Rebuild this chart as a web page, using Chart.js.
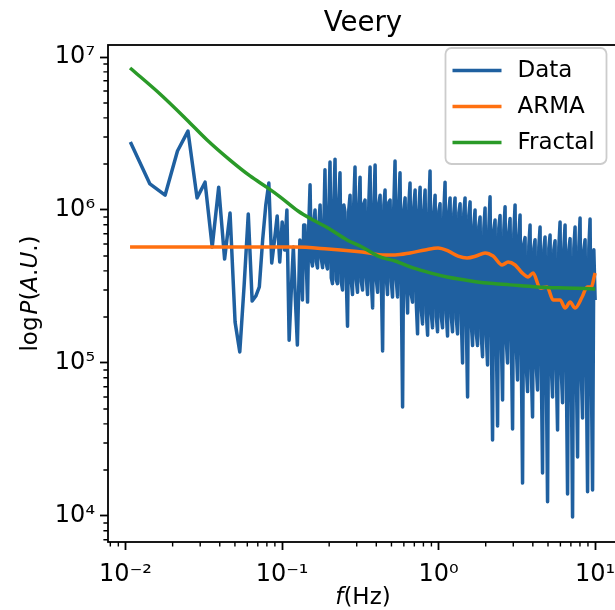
<!DOCTYPE html>
<html>
<head>
<meta charset="utf-8">
<script src="https://cdn.jsdelivr.net/npm/chart.js@4.4.1/dist/chart.umd.min.js"></script>
<style>
  html, body { margin: 0; padding: 0; background: #fff; overflow: hidden; }
  #wrap { width: 630px; height: 610px; }
</style>
</head>
<body>
<div id="wrap"><canvas id="psd" width="630" height="610"></canvas></div>
<script>
// Frequencies (Hz) and power of the measured spectrum
const dataFreq = [
  0.01074, 0.01432, 0.0179, 0.02148, 0.02506, 0.02864, 0.03222, 0.0358, 0.03938, 0.04296,
  0.04654, 0.05012, 0.0537, 0.05728, 0.06086, 0.06444, 0.06802, 0.0716, 0.07518, 0.07876,
  0.08234, 0.08592, 0.0895, 0.09308, 0.09666, 0.1002, 0.1038, 0.1074, 0.111, 0.1146,
  0.1181, 0.1217, 0.1253,
  0.130, 0.1324, 0.135, 0.1375, 0.140, 0.1426, 0.1455, 0.1482, 0.151, 0.1538,
  0.1565, 0.1594, 0.1625, 0.1655, 0.1685, 0.1716, 0.175, 0.1783, 0.1815, 0.1849,
  0.188, 0.1915, 0.195, 0.1986, 0.2025, 0.2063, 0.210, 0.2139, 0.218, 0.2221,
  0.226, 0.2302, 0.2345, 0.2389, 0.2435, 0.2480, 0.2525, 0.2572, 0.262, 0.2669,
  0.272, 0.2771, 0.282, 0.2872, 0.2925, 0.2979, 0.3035, 0.3091, 0.315, 0.3209,
  0.327, 0.3331, 0.339, 0.3453, 0.352, 0.3585, 0.365, 0.3718, 0.379, 0.3860,
  0.393, 0.4003, 0.408, 0.4156, 0.423, 0.4309, 0.439, 0.4472, 0.455, 0.4635,
  0.472, 0.4808, 0.490, 0.4991, 0.508, 0.5174, 0.527, 0.5368, 0.547, 0.5572,
  0.567, 0.5775, 0.589, 0.6000, 0.611, 0.6224, 0.634, 0.6458, 0.657, 0.6692,
  0.682, 0.6947, 0.708, 0.7212, 0.734, 0.7477, 0.762, 0.7762, 0.790, 0.8047,
  0.820, 0.8353, 0.851, 0.8668, 0.882, 0.8984, 0.915, 0.9320, 0.950, 0.9677,
  0.985, 1.0033, 1.022, 1.041, 1.060, 1.080, 1.100, 1.120, 1.141, 1.162,
  1.184, 1.206, 1.228, 1.251, 1.274, 1.298, 1.322, 1.347, 1.372, 1.398,
  1.423, 1.449, 1.476, 1.503, 1.532, 1.560, 1.589, 1.619, 1.649, 1.680,
  1.710, 1.742, 1.774, 1.807, 1.841, 1.875, 1.910, 1.946, 1.981, 2.018,
  2.055, 2.093, 2.132, 2.172, 2.212, 2.253, 2.295, 2.338, 2.381, 2.425,
  2.470, 2.516, 2.563, 2.611, 2.659, 2.708, 2.758, 2.809, 2.862, 2.915,
  2.969, 3.024, 3.080, 3.137, 3.195, 3.254, 3.315, 3.377, 3.439, 3.503,
  3.568, 3.634, 3.702, 3.771, 3.840, 3.911, 3.984, 4.058, 4.133, 4.210,
  4.288, 4.368, 4.449, 4.532, 4.615, 4.701, 4.788, 4.877, 4.968, 5.060,
  5.154, 5.250, 5.347, 5.446, 5.547, 5.650, 5.755, 5.862, 5.971, 6.082,
  6.194, 6.309, 6.426, 6.545, 6.667, 6.791, 6.917, 7.046, 7.176, 7.309,
  7.445, 7.583, 7.724, 7.868, 8.013, 8.162, 8.313, 8.468, 8.625, 8.785,
  8.948, 9.114, 9.283, 9.456, 9.631, 9.810, 10.0
];
const dataPower = [
  2.78e6, 1.48e6, 1.25e6, 2.43e6, 3.28e6, 1.2e6, 1.52e6, 5.73e5, 1.41e6, 4.78e5,
  9.56e5, 1.85e5, 1.18e5, 3.24e5, 9.42e5, 2.54e5, 2.74e5, 3.14e5, 6.37e5, 1.08e6,
  1.5e6, 4.5e5, 6.37e5, 9.14e5, 4.57e5, 8.35e5, 5.48e5, 1.0e6, 1.41e5, 3.0e5,
  5.73e5, 2.58e5, 1.31e5,
  6.37e5, 4.71e5, 2.58e5, 7.98e5, 7.98e5, 4.71e5, 2.5e5, 7.98e5, 1.46e6, 4.71e5,
  4.3e5, 8.2e5, 1.0e6, 4.6e5, 4.18e5, 7.8e5, 1.08e6, 4.8e5, 4.2e5, 8.0e5,
  1.83e6, 4.5e5, 4.12e5, 9.0e5, 2.06e6, 3.6e5, 3.3e5, 1.05e6, 2.15e6, 3.5e5,
  3.3e5, 1.1e6, 1.75e6, 3.4e5, 3.0e5, 1.08e6, 9.7e5, 3.6e5, 1.74e5, 1.0e6,
  1.25e6, 3.4e5, 2.8e5, 1.1e6, 1.91e6, 3.5e5, 2.9e5, 1.05e6, 1.64e6, 3.4e5,
  3.0e5, 1.1e6, 1.16e6, 3.6e5, 2.8e5, 1.12e6, 1.91e6, 3.4e5, 2.29e5, 1.05e6,
  1.97e6, 3.5e5, 2.9e5, 1.1e6, 1.25e6, 3.4e5, 1.2e5, 1.08e6, 1.35e6, 3.6e5,
  2.8e5, 1.12e6, 1.16e6, 3.4e5, 2.7e5, 1.05e6, 2.09e6, 3.5e5, 2.7e5, 1.1e6,
  1.75e6, 3.3e5, 5.16e4, 1.0e6, 1.2e6, 3.4e5, 2.12e5, 1.08e6, 1.5e6, 2.8e5,
  2.5e5, 1.05e6, 1.35e6, 2.4e5, 1.55e5, 1.0e6, 1.41e6, 2.2e5, 1.8e5, 1.0e6,
  1.35e6, 2.1e5, 1.52e5, 1.0e6, 1.8e6, 2.1e5, 1.7e5, 9.5e5, 1.25e6, 2.0e5,
  1.6e5, 9.8e5, 1.1e6, 2.0e5, 1.7e5, 9.6e5, 1.52e6, 2.1e5, 1.5e5, 9.8e5,
  1.2e6, 2.0e5, 1.6e5, 9.5e5, 1.2e6, 1.95e5, 1.55e5, 9.6e5, 1.1e6, 1.9e5,
  1.0e5, 9.5e5, 1.2e6, 1.9e5, 5.99e4, 9.2e5, 1.13e6, 1.8e5, 1.3e5, 8.0e5,
  1.0e6, 1.55e5, 1.3e5, 7.8e5, 9.0e5, 1.5e5, 1.1e5, 7.6e5, 1.03e6, 1.5e5,
  9.7e4, 7.5e5, 1.22e6, 1.5e5, 3.14e4, 7.4e5, 8.6e5, 1.45e5, 3.88e4, 7.6e5,
  9.2e5, 1.45e5, 5.73e4, 7.4e5, 1.05e6, 1.4e5, 1.0e5, 7.2e5, 8.8e5, 1.35e5,
  3.7e4, 7.0e5, 1.08e6, 1.3e5, 7.74e4, 6.8e5, 9.28e5, 1.1e5, 1.64e4, 6.0e5,
  6.6e5, 9.5e4, 6.5e4, 5.8e5, 7.98e5, 9.0e4, 4.44e4, 5.6e5, 6.4e5, 9.5e4,
  6.66e4, 5.7e5, 7.74e5, 9.0e4, 1.91e4, 5.5e5, 6.66e5, 8.5e4, 1.24e4, 5.6e5,
  6.86e5, 9.5e4, 6.0e4, 5.5e5, 6.3e5, 9.0e4, 3.65e4, 5.7e5, 8.35e5, 8.8e4,
  5.5e4, 5.6e5, 7.98e5, 9.0e4, 1.39e4, 5.5e5, 6.5e5, 8.5e4, 9.85e3, 5.6e5,
  7.74e5, 9.0e4, 2.43e4, 5.7e5, 8.86e5, 8.5e4, 4.37e4, 5.5e5, 6.4e5, 9.0e4,
  1.44e4, 5.6e5, 8.73e5, 8.8e4, 1.48e4, 5.5e5, 2.58e5
];

// ARMA model spectrum
const armaFreq = [
  0.01069, 0.02992, 0.07234, 0.1211, 0.1967, 0.3245, 0.455, 0.5272, 0.6575, 0.8197,
  0.9927, 1.15, 1.332, 1.521, 1.736, 1.982, 2.23, 2.546, 2.781, 3.083,
  3.417, 3.732, 4.017, 4.452, 4.935, 5.39, 5.975, 6.43, 6.923, 7.45,
  8.258, 8.89, 9.43, 10.0
];
const armaPower = [
  5.73e5, 5.73e5, 5.73e5, 5.73e5, 5.56e5, 5.31e5, 5.08e5, 5.08e5, 5.24e5, 5.48e5,
  5.64e5, 5.4e5, 5.0e5, 4.86e5, 5.0e5, 5.24e5, 5.0e5, 4.37e5, 4.57e5, 4.37e5,
  3.88e5, 3.65e5, 3.88e5, 3.09e5, 3.14e5, 2.58e5, 2.58e5, 2.29e5, 2.5e5, 2.29e5,
  2.7e5, 3.14e5, 3.14e5, 3.88e5
];

// Fractal model spectrum
const fractalFreq = [
  0.01069, 0.01662, 0.02471, 0.0332, 0.04653, 0.06246, 0.0814, 0.0971, 0.1265, 0.1578,
  0.1967, 0.2602, 0.3245, 0.4229, 0.5272, 0.6874, 0.8824, 1.133, 1.477, 2.041,
  2.863, 4.26, 6.43, 10.0
];
const fractalPower = [
  8.48e6, 5.73e6, 3.88e6, 2.87e6, 2.12e6, 1.67e6, 1.39e6, 1.22e6, 9.85e5, 8.6e5,
  7.63e5, 6.37e5, 5.73e5, 4.93e5, 4.64e5, 4.18e5, 3.88e5, 3.65e5, 3.49e5, 3.33e5,
  3.24e5, 3.14e5, 3.09e5, 3.05e5
];

const seriesNames = ['Data', 'ARMA', 'Fractal'];
const seriesColors = ['#1f60a0', '#ff7010', '#2a9a28'];

const xTickValues = [0.01, 0.1, 1, 10];
const xTickLabels = ['10\u207B\u00B2', '10\u207B\u00B9', '10\u2070', '10\u00B9'];
const yTickValues = [1e4, 1e5, 1e6, 1e7];
const yTickLabels = ['10\u2074', '10\u2075', '10\u2076', '10\u2077'];

const FONT = '"DejaVu Sans", sans-serif';

function toPoints(xs, ys) {
  return xs.map((f, i) => ({ x: f, y: ys[i] }));
}

// draw a run of text pieces (some italic) centred on cx
function drawPieces(ctx, pieces, size, cx, cy) {
  const widths = pieces.map(p => {
    ctx.font = (p[1] ? 'italic ' : '') + size + 'px ' + FONT;
    return ctx.measureText(p[0]).width + (p[2] || 0);
  });
  const total = widths.reduce((a, b) => a + b, 0);
  let x = cx - total / 2;
  pieces.forEach((p, i) => {
    ctx.font = (p[1] ? 'italic ' : '') + size + 'px ' + FONT;
    ctx.fillText(p[0], x, cy);
    x += widths[i];
  });
}

const decorations = {
  id: 'decorations',
  afterDraw(chart) {
    const { ctx, chartArea: a } = chart;
    const xs = chart.scales.x, ys = chart.scales.y;
    ctx.save();

    // axes frame
    ctx.strokeStyle = '#000';
    ctx.lineWidth = 1.8;
    ctx.strokeRect(a.left, a.top, a.right - a.left, a.bottom - a.top);

    // minor ticks
    ctx.lineWidth = 1.4;
    ctx.beginPath();
    for (let k = -3; k <= 1; k++) {
      for (let m = 2; m <= 9; m++) {
        const v = m * Math.pow(10, k);
        if (v > xs.min && v < xs.max) {
          const px = xs.getPixelForValue(v);
          ctx.moveTo(px, a.bottom);
          ctx.lineTo(px, a.bottom + 4.6);
        }
      }
    }
    for (let k = 3; k <= 7; k++) {
      for (let m = 2; m <= 9; m++) {
        const v = m * Math.pow(10, k);
        if (v > ys.min && v < ys.max) {
          const py = ys.getPixelForValue(v);
          ctx.moveTo(a.left, py);
          ctx.lineTo(a.left - 4.6, py);
        }
      }
    }
    ctx.stroke();

    ctx.fillStyle = '#000';
    ctx.textBaseline = 'alphabetic';
    ctx.textAlign = 'left';

    // title
    drawPieces(ctx, [['Veery', false]], 27.6, (a.left + a.right) / 2, a.top - 14);

    // x label
    ctx.textBaseline = 'middle';
    drawPieces(ctx, [['f', true], ['(Hz)', false]], 23, (a.left + a.right) / 2, 598);

    // y label
    ctx.save();
    ctx.translate(31, (a.top + a.bottom) / 2);
    ctx.rotate(-Math.PI / 2);
    drawPieces(ctx, [['log', false, 2], ['P', true], ['(', false], ['A', true], ['.', false],
      ['U', true], ['.', false], [')', false]], 23, 0, 0);
    ctx.restore();

    // legend
    const bw = 161, bh = 116;
    const bx = a.right - 11.5 - bw, by = a.top + 3;
    ctx.beginPath();
    ctx.roundRect(bx, by, bw, bh, 6);
    ctx.fillStyle = 'rgba(255,255,255,0.8)';
    ctx.fill();
    ctx.strokeStyle = '#cccccc';
    ctx.lineWidth = 1.8;
    ctx.stroke();
    seriesNames.forEach((name, i) => {
      const ry = by + 22.5 + i * 36;
      ctx.strokeStyle = seriesColors[i];
      ctx.lineWidth = 3.5;
      ctx.beginPath();
      ctx.moveTo(bx + 7, ry);
      ctx.lineTo(bx + 56, ry);
      ctx.stroke();
      ctx.fillStyle = '#000';
      ctx.font = '23px ' + FONT;
      ctx.textAlign = 'left';
      ctx.textBaseline = 'middle';
      ctx.fillText(name, bx + 72, ry + 1);
    });

    ctx.restore();
  }
};

const tickFont = { family: FONT, size: 24 };

new Chart(document.getElementById('psd'), {
  type: 'line',
  data: {
    datasets: [
      { label: seriesNames[0], data: toPoints(dataFreq, dataPower), borderColor: seriesColors[0], order: 3 },
      { label: seriesNames[1], data: toPoints(armaFreq, armaPower), borderColor: seriesColors[1], order: 2, cubicInterpolationMode: 'monotone' },
      { label: seriesNames[2], data: toPoints(fractalFreq, fractalPower), borderColor: seriesColors[2], order: 1, cubicInterpolationMode: 'monotone' }
    ]
  },
  options: {
    responsive: false,
    animation: false,
    events: [],
    layout: { padding: { top: 45, right: 12, left: 0, bottom: 0 }, autoPadding: false },
    elements: {
      point: { radius: 0 },
      line: { borderWidth: 3.5, borderJoinStyle: 'round', fill: false }
    },
    plugins: {
      legend: { display: false },
      title: { display: false },
      tooltip: { enabled: false }
    },
    scales: {
      x: {
        type: 'logarithmic',
        min: 0.00773,
        max: 14.0,
        afterBuildTicks: s => { s.ticks = xTickValues.map(v => ({ value: v })); },
        afterFit: s => { s.height = 68; },
        border: { display: false },
        grid: { drawOnChartArea: false, drawTicks: true, tickLength: 8, tickWidth: 1.8, tickColor: '#000' },
        ticks: { autoSkip: false, maxRotation: 0, padding: 10, color: '#000', font: tickFont,
          callback: (v, i) => xTickLabels[i] }
      },
      y: {
        type: 'logarithmic',
        min: 6760,
        max: 1.198e7,
        afterBuildTicks: s => { s.ticks = yTickValues.map(v => ({ value: v })); },
        afterFit: s => { s.width = 108; },
        border: { display: false },
        grid: { drawOnChartArea: false, drawTicks: true, tickLength: 8, tickWidth: 1.8, tickColor: '#000' },
        ticks: { autoSkip: false, padding: 5, color: '#000', font: tickFont,
          callback: (v, i) => yTickLabels[i] }
      }
    }
  },
  plugins: [decorations]
});
</script>
</body>
</html>
